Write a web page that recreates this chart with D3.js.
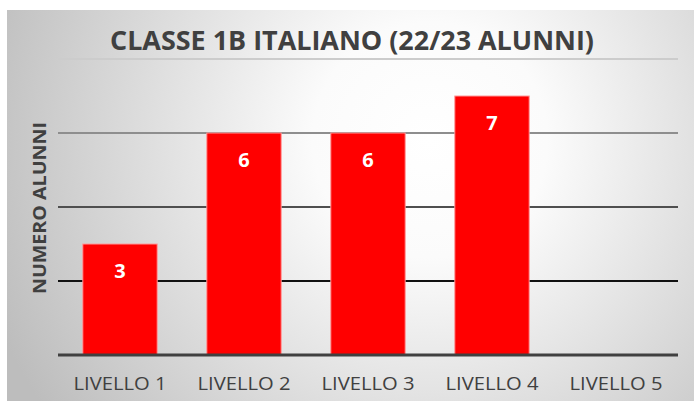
<!DOCTYPE html>
<html>
<head>
<meta charset="utf-8">
<script src="https://cdn.jsdelivr.net/npm/d3@7"></script>
<style>
  body { margin: 0; background: #fff; }
  svg { display: block; font-family: "Open Sans", "Noto Sans", sans-serif; }
</style>
</head>
<body>
<script>
const width = 694;
const height = 401;

const categories = ["LIVELLO 1", "LIVELLO 2", "LIVELLO 3", "LIVELLO 4", "LIVELLO 5"];
const values = [3, 6, 6, 7, null];
const gridTicks = [2, 4, 6, 8];

const title = "CLASSE 1B ITALIANO (22/23 ALUNNI)";
const yTitle = "NUMERO ALUNNI";

let margin = { top: 59, right: 16, bottom: 46, left: 58 };

let svg = d3
  .select("body")
  .append("svg")
  .attr("width", width)
  .attr("height", height);

// background with radial gradient
let defs = svg.append("defs");
let grad = defs
  .append("radialGradient")
  .attr("id", "bg")
  .attr("gradientUnits", "userSpaceOnUse")
  .attr("cx", 430)
  .attr("cy", 140)
  .attr("r", 470);
grad.append("stop").attr("offset", "0%").attr("stop-color", "#ffffff");
grad.append("stop").attr("offset", "25%").attr("stop-color", "#fbfbfb");
grad.append("stop").attr("offset", "100%").attr("stop-color", "#bdbdbd");

svg
  .append("rect")
  .attr("x", 7)
  .attr("y", 10)
  .attr("width", width - 7)
  .attr("height", height - 10)
  .attr("fill", "url(#bg)");

let xScale = d3
  .scaleBand()
  .domain(categories)
  .range([margin.left, width - margin.right])
  .paddingInner(0.4)
  .paddingOuter(0.2);

let yScale = d3
  .scaleLinear()
  .domain([0, 8])
  .range([height - margin.bottom, margin.top]);

let gridColor = d3.scaleLinear().domain([2, 8]).range(["#111111", "#cccccc"]);

svg
  .append("g")
  .selectAll("line")
  .data(gridTicks)
  .join("line")
  .attr("x1", margin.left)
  .attr("x2", width - margin.right)
  .attr("y1", (d) => yScale(d))
  .attr("y2", (d) => yScale(d))
  .attr("stroke", (d) => gridColor(d))
  .attr("stroke-width", 2);

let data = categories.map((c, i) => ({ cat: c, value: values[i] }));
let filled = data.filter((d) => d.value != null);

svg
  .append("g")
  .selectAll("rect")
  .data(filled)
  .join("rect")
  .attr("x", (d) => xScale(d.cat))
  .attr("y", (d) => yScale(d.value))
  .attr("width", xScale.bandwidth())
  .attr("height", (d) => yScale(0) - yScale(d.value))
  .attr("fill", "#ff0000")
  .attr("stroke", "#ff9a9a")
  .attr("stroke-width", 1);

svg
  .append("g")
  .selectAll("text")
  .data(filled)
  .join("text")
  .text((d) => d.value)
  .attr("x", (d) => xScale(d.cat) + xScale.bandwidth() / 2)
  .attr("y", (d) => yScale(d.value) + 34)
  .attr("text-anchor", "middle")
  .attr("fill", "#ffffff")
  .style("font-size", "20px")
  .style("font-weight", "bold");

// baseline
svg
  .append("line")
  .attr("x1", margin.left)
  .attr("x2", width - margin.right)
  .attr("y1", yScale(0))
  .attr("y2", yScale(0))
  .attr("stroke", "#404040")
  .attr("stroke-width", 3);

// category labels
let bottomAxis = d3.axisBottom(xScale).tickSize(0).tickPadding(22);
let bottomContainer = svg
  .append("g")
  .attr("transform", `translate(0, ${yScale(0)})`)
  .call(bottomAxis);
bottomContainer.select(".domain").remove();
bottomContainer
  .selectAll("text")
  .attr("fill", "#404040")
  .attr("textLength", 93)
  .attr("lengthAdjust", "spacingAndGlyphs")
  .style("font-family", "'Open Sans', sans-serif")
  .style("font-size", "18px");

svg
  .append("text")
  .text(title)
  .attr("x", 352)
  .attr("y", 50)
  .attr("text-anchor", "middle")
  .attr("fill", "#404040")
  .attr("textLength", 484)
  .attr("lengthAdjust", "spacingAndGlyphs")
  .style("font-size", "27px")
  .style("font-weight", "bold");

svg
  .append("text")
  .text(yTitle)
  .attr("text-anchor", "middle")
  .attr("fill", "#404040")
  .attr("textLength", 172)
  .attr("lengthAdjust", "spacingAndGlyphs")
  .style("font-size", "18px")
  .style("font-weight", "bold")
  .attr("transform", `translate(46, 208) rotate(270)`);
</script>
</body>
</html>
